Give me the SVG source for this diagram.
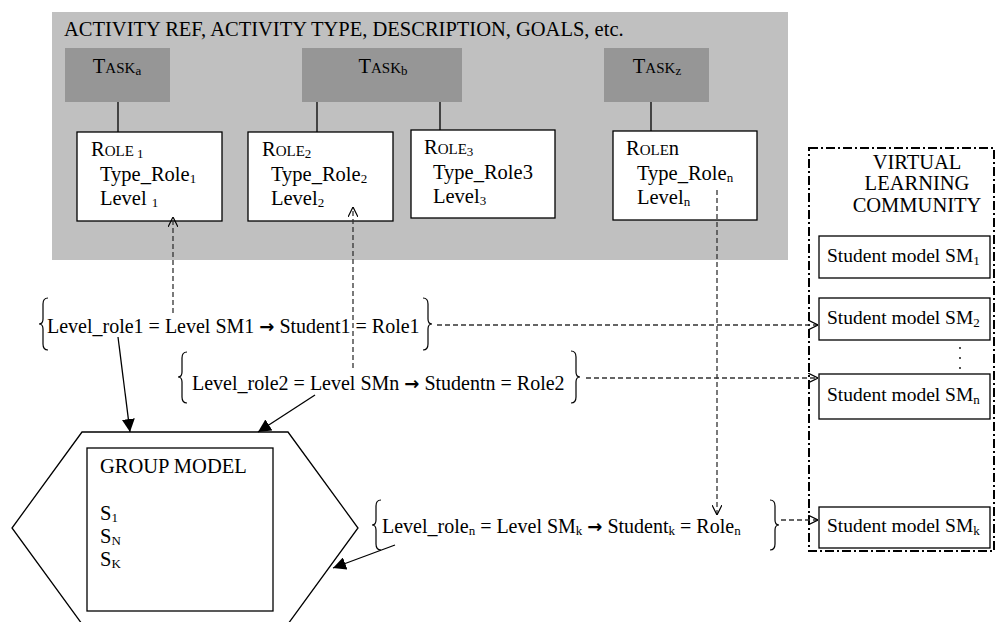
<svg xmlns="http://www.w3.org/2000/svg" width="997" height="622" viewBox="0 0 997 622">
<defs>
<style>
text{font-family:"Liberation Serif","Times New Roman",serif;font-size:20.5px;fill:#000}
.eq{font-size:20px}
.smt{font-size:19.5px}
.sc{font-size:15px}
.sub{font-size:13px}
.arr{font-family:"DejaVu Sans",sans-serif;font-weight:bold;font-size:18px}
.box{fill:#fff;stroke:#000;stroke-width:1.3}
.task{fill:#969696}
.ln{stroke:#000;stroke-width:1.3;fill:none}
.dash{stroke:#333;stroke-width:1.3;stroke-dasharray:5,3;fill:none}
.brace{stroke:#000;stroke-width:1.2;fill:none}
</style>
<marker id="open" viewBox="0 0 10 10" refX="10" refY="5" markerWidth="10" markerHeight="10" markerUnits="userSpaceOnUse" orient="auto">
<path d="M0,0 L10,5 L0,10" fill="none" stroke="#000" stroke-width="1.2"/>
</marker>
<marker id="fill" viewBox="0 0 12 12" refX="12" refY="6" markerWidth="13" markerHeight="13" markerUnits="userSpaceOnUse" orient="auto">
<path d="M0,0 L12,6 L0,12 Z" fill="#000"/>
</marker>
</defs>

<g id="activity">
<rect x="52" y="12" width="736" height="248" fill="#c0c0c0"/>
<text x="64" y="36">ACTIVITY REF, ACTIVITY TYPE,  DESCRIPTION, GOALS, etc.</text>
</g>

<g id="task-a">
<rect class="task" x="65" y="48" width="105" height="54"/>
<text x="117" y="73" text-anchor="middle">T<tspan class="sc">ASK</tspan><tspan class="sub" dy="2">a</tspan></text>
</g>
<g id="task-b">
<rect class="task" x="302" y="48" width="160" height="54"/>
<text x="383" y="73" text-anchor="middle">T<tspan class="sc">ASK</tspan><tspan class="sub" dy="2">b</tspan></text>
</g>
<g id="task-z">
<rect class="task" x="604" y="48" width="105" height="54"/>
<text x="657" y="73" text-anchor="middle">T<tspan class="sc">ASK</tspan><tspan class="sub" dy="2">z</tspan></text>
</g>

<g id="role-1">
<rect class="box" x="77" y="132" width="145" height="89"/>
<text x="91" y="156">R<tspan class="sc">OLE</tspan><tspan class="sub" dy="2"> 1</tspan></text>
<text x="100" y="181">Type_Role<tspan class="sub" dy="2">1</tspan></text>
<text x="100" y="205">Level <tspan class="sub" dy="2">1</tspan></text>
</g>
<g id="role-2">
<rect class="box" x="248" y="132" width="145" height="89"/>
<text x="262" y="156">R<tspan class="sc">OLE</tspan><tspan class="sub" dy="2">2</tspan></text>
<text x="271" y="181">Type_Role<tspan class="sub" dy="2">2</tspan></text>
<text x="271" y="205">Level<tspan class="sub" dy="2">2</tspan></text>
</g>
<g id="role-3">
<rect class="box" x="411" y="130" width="144" height="88"/>
<text x="424" y="154">R<tspan class="sc">OLE</tspan><tspan class="sub" dy="2">3</tspan></text>
<text x="433" y="179">Type_Role3</text>
<text x="433" y="203">Level<tspan class="sub" dy="2">3</tspan></text>
</g>
<g id="role-n">
<rect class="box" x="613" y="131" width="144" height="89"/>
<text x="626" y="155">R<tspan class="sc">OLE</tspan>n</text>
<text x="637" y="180">Type_Role<tspan class="sub" dy="2">n</tspan></text>
<text x="637" y="204">Level<tspan class="sub" dy="2">n</tspan></text>
</g>

<g id="vlc">
<rect x="809" y="148" width="185" height="403" fill="none" stroke="#000" stroke-width="2" stroke-dasharray="9,3,2,3"/>
<text x="917" y="169" text-anchor="middle">VIRTUAL</text>
<text x="917" y="190" text-anchor="middle">LEARNING</text>
<text x="917" y="212" text-anchor="middle">COMMUNITY</text>
</g>
<g id="sm-1">
<rect class="box" x="819" y="236" width="171" height="42"/>
<text class="smt" x="827" y="262">Student model SM<tspan class="sub" dy="3">1</tspan></text>
</g>
<g id="sm-2">
<rect class="box" x="819" y="298" width="171" height="42"/>
<text class="smt" x="827" y="324">Student model SM<tspan class="sub" dy="3">2</tspan></text>
</g>
<g id="dots">
<circle cx="960" cy="348" r="0.9" fill="#000"/>
<circle cx="960" cy="358" r="0.9" fill="#000"/>
<circle cx="960" cy="368" r="0.9" fill="#000"/>
</g>
<g id="sm-n">
<rect class="box" x="819" y="374" width="171" height="45"/>
<text class="smt" x="827" y="401">Student model SM<tspan class="sub" dy="3">n</tspan></text>
</g>
<g id="sm-k">
<rect class="box" x="819" y="507" width="171" height="41"/>
<text class="smt" x="827" y="532">Student model SM<tspan class="sub" dy="3">k</tspan></text>
</g>

<g id="eq-1">
<path class="brace" d="M48,298 Q43,298 43,304 L43,319 Q43,324 39,324 Q43,324 43,329 L43,344 Q43,350 48,350"/>
<text class="eq" x="47" y="333">Level_role1 = Level SM1 <tspan class="arr">→</tspan> Student1 = Role1</text>
<path class="brace" d="M423,298 Q428,298 428,304 L428,319 Q428,324 432,324 Q428,324 428,329 L428,344 Q428,350 423,350"/>
</g>
<g id="eq-2">
<path class="brace" d="M187,352 Q182,352 182,358 L182,372 Q182,377 178,377 Q182,377 182,382 L182,397 Q182,403 187,403"/>
<text class="eq" x="192" y="390">Level_role2 = Level SMn <tspan class="arr">→</tspan> Studentn = Role2</text>
<path class="brace" d="M571,351 Q576,351 576,357 L576,372 Q576,377 580,377 Q576,377 576,382 L576,397 Q576,403 571,403"/>
</g>
<g id="eq-n">
<path class="brace" d="M381,500 Q376,500 376,506 L376,520 Q376,525 372,525 Q376,525 376,530 L376,544 Q376,550 381,550"/>
<text class="eq" x="382" y="533">Level_role<tspan class="sub" dy="2">n</tspan><tspan dy="-2"> = Level SM</tspan><tspan class="sub" dy="2">k</tspan><tspan dy="-2"> </tspan><tspan class="arr">→</tspan> Student<tspan class="sub" dy="2">k</tspan><tspan dy="-2"> = Role</tspan><tspan class="sub" dy="2">n</tspan></text>
<path class="brace" d="M770,500 Q775,500 775,506 L775,520 Q775,525 779,525 Q775,525 775,530 L775,544 Q775,550 770,550"/>
</g>

<g id="group-model">
<polygon points="82,432 288,432 358,528 288,624 82,624 12,528" fill="#fff" stroke="#000" stroke-width="1.3"/>
<rect class="box" x="87" y="448" width="186" height="163"/>
<text x="100" y="473">GROUP MODEL</text>
<text x="100" y="520">S<tspan class="sub" dy="2">1</tspan></text>
<text x="100" y="543">S<tspan class="sub" dy="2">N</tspan></text>
<text x="100" y="566">S<tspan class="sub" dy="2">K</tspan></text>
</g>

<g id="connectors">
<line class="ln" x1="118" y1="102" x2="118" y2="132"/>
<line class="ln" x1="317" y1="102" x2="317" y2="132"/>
<line class="ln" x1="440" y1="102" x2="440" y2="130"/>
<line class="ln" x1="651" y1="102" x2="651" y2="131"/>
<line class="dash" x1="173" y1="313" x2="173" y2="217" marker-end="url(#open)"/>
<line class="dash" x1="353" y1="368" x2="353" y2="207" marker-end="url(#open)"/>
<line class="dash" x1="717" y1="190" x2="717" y2="515" marker-end="url(#open)"/>
<line class="dash" x1="437" y1="325" x2="818" y2="325" marker-end="url(#open)"/>
<line class="dash" x1="586" y1="378" x2="818" y2="378" marker-end="url(#open)"/>
<line class="dash" x1="781" y1="520" x2="818" y2="520" marker-end="url(#open)"/>
<line class="ln" x1="118" y1="337" x2="130" y2="432" marker-end="url(#fill)"/>
<line class="ln" x1="315" y1="395" x2="258" y2="432" marker-end="url(#fill)"/>
<line class="ln" x1="395" y1="545" x2="333" y2="568" marker-end="url(#fill)"/>
</g>
</svg>
